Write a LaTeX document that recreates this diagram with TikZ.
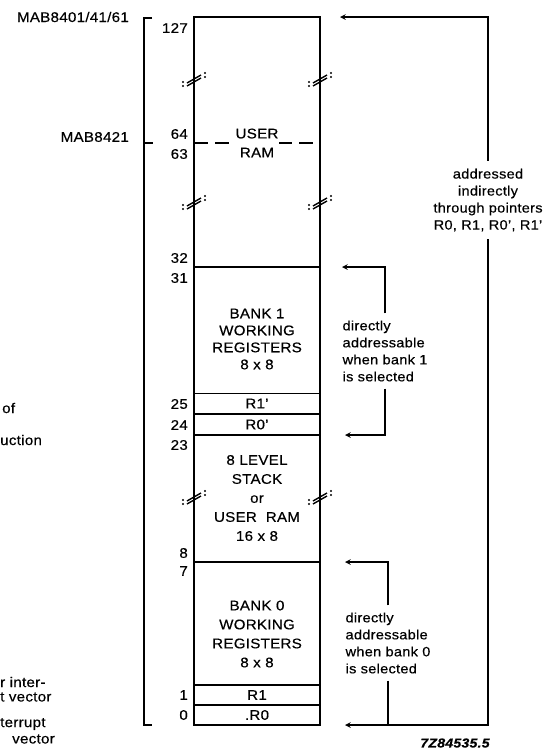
\documentclass[tikz,border=0pt]{standalone}
\usepackage{fontspec}
\setmainfont[FakeStretch=1.08, LetterSpace=2, FakeBold=0.4]{Liberation Sans}
\begin{document}
\begin{tikzpicture}[x=1pt, y=-1pt, >=stealth,
		every node/.style={font=\fontsize{14}{17}\selectfont},
		outline/.style={line width=2.4pt},
		divider/.style={line width=2pt},
		cell/.style={draw, line width=1.6pt, minimum width=126pt, minimum height=20pt, inner sep=0pt},
		num/.style={anchor=east, inner sep=0pt},
		lead/.style={line width=1.5pt},
		note/.style={align=left, inner sep=7pt, font=\fontsize{13.5}{17}\selectfont},
		memtext/.style={align=center, inner sep=1pt, fill=white, font=\fontsize{14}{19}\selectfont}]
	\useasboundingbox (0,0) rectangle (555,750);
	
	% 1. RAM block with its dividing lines
	\draw[outline] (194,17) rectangle (320,725);
	\draw[divider, dash pattern=on 14pt off 7pt] (194,143) -- (320,143);
	\draw[divider] (194,267) -- (320,267);
	\draw[divider] (194,435) -- (320,435);
	\draw[divider] (194,562) -- (320,562);
	
	% pointer registers of both banks
	\node[cell] (r1p) at (257,403.5) {R1’};
	\node[cell] (r0p) at (257,424.5) {R0’};
	\node[cell] (r1) at (257,695) {R1};
	\node[cell] (r0) at (257,715) {.R0};
	
	% 2. texts inside the block
	\node[memtext] (usr) at (257,143) {USER\\RAM};
	\node[memtext, fill=none, font=\fontsize{14}{17}\selectfont] (bank1) at (257,339) {BANK 1\\WORKING\\REGISTERS\\8 x 8};
	\node[memtext, fill=none] (stack) at (257,498) {8 LEVEL\\STACK\\or\\USER\ \ RAM\\16 x 8};
	\node[memtext, fill=none] (bank0) at (257,634) {BANK 0\\WORKING\\REGISTERS\\8 x 8};
	
	% 3. break marks on both sides
	\foreach \bx/\by in {194/80, 320/80, 194/203, 320/203, 194/498, 320/498} {
		\draw[line width=1.4pt] (\bx-7,\by+3) -- (\bx+7,\by-5) (\bx-7,\by+6) -- (\bx+7,\by-2);
		\fill (\bx-11,\by+2) circle (1.1) (\bx-11,\by+6) circle (1.1)
			(\bx+11,\by-7) circle (1.1) (\bx+11,\by-3) circle (1.1);
	}
	
	% 4. addresses
	\foreach \v/\y in {127/28, 64/134, 63/154, 32/258, 31/278, 25/404, 24/425,
		23/445, 8/553, 7/571, 1/695, 0/715}
		\node[num] (n\v) at (188,\y) {\v};
	
	% 5. device bracket on the left
	\node[anchor=east, inner sep=0pt] (mab1) at (129,17) {MAB8401/41/61};
	\node[anchor=east, inner sep=0pt] (mab2) at (129,137) {MAB8421};
	\draw[lead] (152,18) -- (144,18) -- (144,725) -- (152,725);
	\draw[lead] (144,143) -- (153,143);
	
	% cut-off texts at the left edge
	\node[anchor=west, inner sep=0pt] (fa) at (2,408) {of};
	\node[anchor=west, inner sep=0pt] (fb) at (0,440) {uction};
	\node[anchor=west, inner sep=0pt] (fc) at (0,682) {r inter-};
	\node[anchor=west, inner sep=0pt] (fd) at (0,697) {t vector};
	\node[anchor=west, inner sep=0pt] (fe) at (0,724) {terrupt};
	\node[anchor=west, inner sep=0pt] (ff) at (12,739) {vector};
	
	% 6. addressing arrows on the right
	\coordinate (alltop) at (340,17);
	\coordinate (allbot) at (345,725);
	\coordinate (b1top) at (342,267);
	\coordinate (b1bot) at (345,435);
	\coordinate (b0top) at (345,562);
	
	\node[note, align=center, inner sep=8pt] (ind) at (488,200) {addressed\\indirectly\\through pointers\\R0, R1, R0’, R1’};
	\node[note] (b1txt) at (385,351) {directly\\addressable\\when bank 1\\is selected};
	\node[note] (b0txt) at (388,643) {directly\\addressable\\when bank 0\\is selected};
	
	\draw[lead, ->] (ind.north) |- (alltop);
	\draw[lead, ->] (ind.south) |- (allbot);
	\draw[lead, ->] (b1txt.north) |- (b1top);
	\draw[lead, ->] (b1txt.south) |- (b1bot);
	\draw[lead, ->] (b0txt.north) |- (b0top);
	\draw[lead] (b0txt.south) -- (b0txt.south |- allbot);
	
	\node[font=\fontsize{13}{15}\selectfont\bfseries\itshape] (fig) at (455,743) {7Z84535.5};
\end{tikzpicture}
\end{document}
